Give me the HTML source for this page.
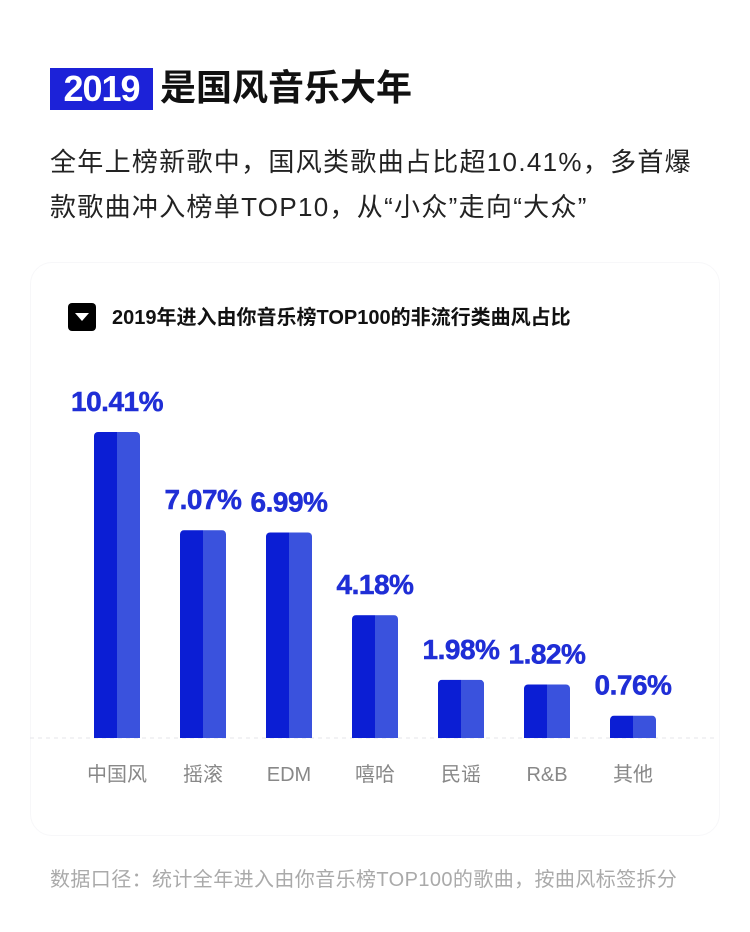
<!DOCTYPE html>
<html><head><meta charset="utf-8"><style>
body{margin:0;width:750px;height:932px;background:#fff;font-family:"Liberation Sans","Noto Sans CJK SC",sans-serif;position:relative;overflow:hidden}
.abs{position:absolute}
</style></head><body>
<div class="abs" style="left:50px;top:68px;width:103px;height:42px;background:#1c22d8;color:#fff;font-weight:bold;font-size:36px;line-height:42px;text-align:center;letter-spacing:-1px">2019</div>
<div class="abs" style="left:160px;top:64px;font-size:36px;font-weight:bold;line-height:48px;color:#111">是国风音乐大年</div>
<div class="abs" style="left:50px;top:140px;width:700px;font-size:26px;line-height:45px;color:#222;letter-spacing:1.3px;white-space:nowrap">全年上榜新歌中，国风类歌曲占比超10.41%，多首爆<br>款歌曲冲入榜单TOP10，从“小众”走向“大众”</div>
<div class="abs" style="left:30px;top:262px;width:688px;height:572px;border:1px solid #f7f7f9;border-radius:22px"></div>
<div class="abs" style="left:68px;top:303px;width:28px;height:28px;background:#000;border-radius:4px"><div style="position:absolute;left:7px;top:10px;width:0;height:0;border-left:7px solid transparent;border-right:7px solid transparent;border-top:8px solid #fff"></div></div>
<div class="abs" style="left:112px;top:304px;font-size:20px;line-height:28px;color:#111;font-weight:bold">2019年进入由你音乐榜TOP100的非流行类曲风占比</div>
<svg class="abs" style="left:0;top:0" width="750" height="932">
<line x1="30" y1="738" x2="718" y2="738" stroke="#e6e6ea" stroke-dasharray="4 4"/>
<g id="bars"></g>
</svg>
<div class="abs" style="left:50px;top:867px;font-size:20px;line-height:26px;color:#aaa;letter-spacing:0.4px">数据口径：统计全年进入由你音乐榜TOP100的歌曲，按曲风标签拆分</div>
<script>
const categories=["中国风","摇滚","EDM","嘻哈","民谣","R&B","其他"];
const values=[10.41,7.07,6.99,4.18,1.98,1.82,0.76];
const valueLabels=["10.41%","7.07%","6.99%","4.18%","1.98%","1.82%","0.76%"];
const base=738,scale=29.4,x0=117,step=86,bw=46;
const y=v=>base-v*scale, x=i=>x0+i*step;
const g=document.getElementById('bars'),NS="http://www.w3.org/2000/svg";
values.forEach((v,i)=>{
 const cx=x(i),top=y(v),h=base-top;
 const gr=document.createElementNS(NS,'g');
 
 
 gr.innerHTML=`<clipPath id="c${i}"><rect x="${cx-bw/2}" y="${top}" width="${bw}" height="${h+6}" rx="4"/></clipPath>
 <g clip-path="url(#c${i})"><rect x="${cx-bw/2}" y="${top}" width="${bw/2}" height="${h}" fill="#0b1ed4"/><rect x="${cx}" y="${top}" width="${bw/2}" height="${h}" fill="#3a52dd"/></g>`;
 g.appendChild(gr);
 const t=document.createElementNS(NS,'text');
 
 
 t.setAttribute('x',cx);t.setAttribute('y',top-21);t.setAttribute('text-anchor','middle');
 t.setAttribute('font-size','28');t.setAttribute('font-weight','bold');t.setAttribute('fill','#1f2ed6');t.setAttribute('letter-spacing','-0.5');
 t.setAttribute('stroke','#1f2ed6');t.setAttribute('stroke-width','0.5');
 t.textContent=valueLabels[i];g.appendChild(t);
 const c=document.createElementNS(NS,'text');
 
 
 c.setAttribute('x',cx);c.setAttribute('y',781);c.setAttribute('text-anchor','middle');
 c.setAttribute('font-size','20');c.setAttribute('fill','#888');
 c.setAttribute('font-family','"Liberation Sans","Noto Sans CJK SC",sans-serif');
 c.textContent=categories[i];g.appendChild(c);
});
</script>
</body></html>
